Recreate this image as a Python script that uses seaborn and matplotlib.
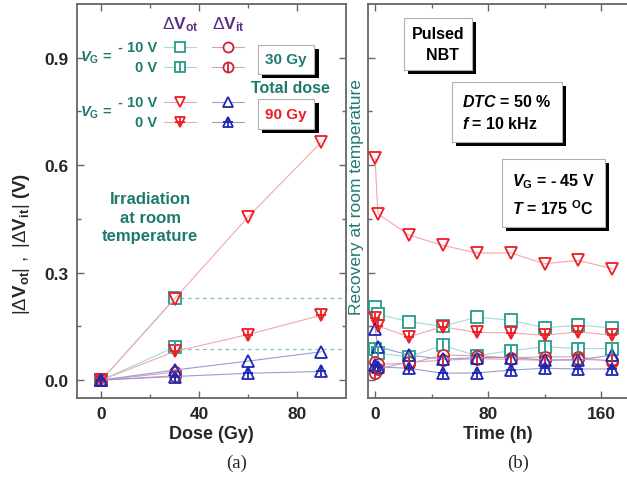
import numpy as np
import pandas as pd
import matplotlib
matplotlib.use("Agg")
import matplotlib.pyplot as plt
import matplotlib.patheffects as pe
import seaborn as sns

# ---------------- data ----------------
dose_30 = [0, 30]
dose_90 = [0, 30, 60, 90]
ot_m10_30 = [0.0, 0.228]
ot_0_30 = [0.0, 0.092]
it_m10_30 = [0.0, 0.022]
it_0_30 = [0.0, 0.012]
ot_m10_90 = [0.0, 0.227, 0.455, 0.664]
ot_0_90 = [0.0, 0.080, 0.127, 0.181]
it_m10_90 = [0.0, 0.028, 0.053, 0.079]
it_0_90 = [0.0, 0.010, 0.019, 0.024]
dash_levels = [0.230, 0.088]

time_h = [0, 2, 24, 48, 72, 96, 120, 144, 168]
rec_ot_m10_30 = [0.204, 0.184, 0.163, 0.150, 0.176, 0.167, 0.146, 0.153, 0.146]
rec_ot_0_30 = [0.088, 0.075, 0.065, 0.097, 0.068, 0.082, 0.093, 0.088, 0.088]
rec_it_m10_30 = [0.050, 0.045, 0.046, 0.070, 0.068, 0.062, 0.065, 0.065, 0.051]
rec_it_0_30 = [0.019, 0.032, 0.050, 0.055, 0.060, 0.058, 0.055, 0.058, 0.055]
rec_ot_m10_90 = [0.620, 0.464, 0.405, 0.376, 0.355, 0.355, 0.325, 0.334, 0.311]
rec_ot_0_90 = [0.172, 0.151, 0.121, 0.149, 0.133, 0.132, 0.125, 0.135, 0.125]
rec_it_m10_90 = [0.144, 0.093, 0.070, 0.058, 0.063, 0.063, 0.056, 0.056, 0.070]
rec_it_0_90 = [0.042, 0.037, 0.033, 0.019, 0.020, 0.028, 0.033, 0.031, 0.031]

# ---------------- style ----------------
sns.set_theme(style="white")
plt.rcParams["font.family"] = ["Liberation Sans", "DejaVu Sans"]
plt.rcParams["mathtext.fontset"] = "custom"
plt.rcParams["mathtext.rm"] = "Liberation Sans"
plt.rcParams["mathtext.bf"] = "Liberation Sans:bold"
plt.rcParams["mathtext.it"] = "Liberation Sans:italic:bold"

TEAL = "#239c8c"
TEAL_T = "#1e7a6f"
RED = "#ee1c25"
RED_C = "#cc2233"
BLUE = "#1c28b4"
PURPLE = "#5b2d86"
L_TEAL = "#a8d8d2"
L_RED = "#f2a8ac"
L_REDC = "#d9a0b8"
L_BLUE = "#9a9ad4"
SPINE = "#666666"

fig = plt.figure(figsize=(6.27, 4.81), dpi=100)
axL = fig.add_axes([77/627, 1-399/481, (345.6-77)/627, 394/481])
axR = fig.add_axes([368/627, 1-399/481, (627-368)/627, 394/481])

MS = 8
MEW = 1.3


def series(ax, x, y, mk, mc, lc, cross=None):
    sns.lineplot(x=x, y=y, ax=ax, color=lc, lw=0.8, marker=mk, ms=MS,
                 mfc="white" if mk in ("s", "o") else "none", mec=mc, mew=MEW,
                 zorder=3)
    if cross:
        sns.lineplot(x=x, y=y, ax=ax, color=mc, lw=0, marker=cross,
                     ms=MS*0.95, mec=mc, mew=MEW, zorder=4)


def all_series(ax, xs30, xs90, d):
    series(ax, xs30, d[0], "s", TEAL, L_TEAL)
    series(ax, xs30, d[1], "s", TEAL, L_TEAL, "|")
    series(ax, xs30, d[2], "o", RED_C, L_REDC)
    series(ax, xs30, d[3], "o", RED_C, L_REDC, "|")
    series(ax, xs90, d[4], "v", RED, L_RED)
    series(ax, xs90, d[5], "v", RED, L_RED, "+")
    series(ax, xs90, d[6], "^", BLUE, L_BLUE)
    series(ax, xs90, d[7], "^", BLUE, L_BLUE, "+")


all_series(axL, dose_30, dose_90,
           [ot_m10_30, ot_0_30, it_m10_30, it_0_30,
            ot_m10_90, ot_0_90, it_m10_90, it_0_90])
for lv in dash_levels:
    axL.plot([32, 100], [lv, lv], ls=(0, (3, 3)), color="#7fc4bb", lw=0.9, zorder=1)

all_series(axR, time_h, time_h,
           [rec_ot_m10_30, rec_ot_0_30, rec_it_m10_30, rec_it_0_30,
            rec_ot_m10_90, rec_ot_0_90, rec_it_m10_90, rec_it_0_90])

# ---------------- axes ----------------
for ax in (axL, axR):
    ax.set_ylim(-0.05, 1.05)
    ax.set_yticks([0.0, 0.3, 0.6, 0.9])
    ax.set_yticks([0.15, 0.45, 0.75], minor=True)
    ax.tick_params(which="both", direction="in", color=SPINE, width=1.0,
                   top=True, right=True, left=True, bottom=True,
                   labelsize=12.5, pad=6)
    ax.tick_params(which="major", length=5)
    ax.tick_params(which="minor", length=3)
    for s in ax.spines.values():
        s.set_color(SPINE)
        s.set_linewidth(1.3)

axL.set_xlim(-10, 100)
axL.set_xticks([0, 40, 80])
axL.set_xticks([20, 60], minor=True)
axL.set_yticklabels(["0.0", "0.3", "0.6", "0.9"], fontweight="bold")
axL.set_xticklabels(["0", "40", "80"], fontweight="bold")
axL.set_xlabel("Dose (Gy)", fontsize=13, fontweight="bold", labelpad=3)

axR.set_xlim(-5, 178.4)
axR.set_xticks([0, 80, 160])
axR.set_xticks([40, 120], minor=True)
axR.set_xticklabels(["0", "80", "160"], fontweight="bold")
axR.set_yticklabels([])
axR.tick_params(right=False, which="both")
axR.spines["right"].set_visible(False)
axR.set_xlabel("Time (h)", fontsize=13, fontweight="bold", labelpad=3)

fig.text(0.035, 0.493,
         r"$|\Delta\mathbf{V_{ot}}|\ ,\ |\Delta\mathbf{V_{it}}|$ (V)",
         rotation=90, ha="center", va="center", fontsize=13.5, fontweight="bold")

# ---------------- legend (custom) ----------------
T = axL.transAxes
xo, xi = 0.383, 0.562
rows = [0.891, 0.840, 0.751, 0.700]
axL.text(xo, 0.949, r"$\Delta\mathbf{V_{ot}}$", transform=T, ha="center", va="center",
         color=PURPLE, fontsize=12.5, fontweight="bold")
axL.text(xi, 0.949, r"$\Delta\mathbf{V_{it}}$", transform=T, ha="center", va="center",
         color=PURPLE, fontsize=12.5, fontweight="bold")
leg = [
    (rows[0], "s", TEAL, L_TEAL, None, "o", RED_C, L_REDC, None),
    (rows[1], "s", TEAL, L_TEAL, "|", "o", RED_C, L_REDC, "|"),
    (rows[2], "v", RED, L_RED, None, "^", BLUE, L_BLUE, None),
    (rows[3], "v", RED, L_RED, "+", "^", BLUE, L_BLUE, "+"),
]
for (yy, m1, c1, l1, x1, m2, c2, l2, x2) in leg:
    for (xc, m, c, l, cr) in ((xo, m1, c1, l1, x1), (xi, m2, c2, l2, x2)):
        axL.plot([xc-0.06, xc+0.06], [yy, yy], transform=T, color=l, lw=0.8,
                 clip_on=False, zorder=5)
        axL.plot([xc], [yy], transform=T, marker=m, ms=MS*0.9,
                 mfc="white", mec=c, mew=MEW, ls="none", zorder=6)
        if cr:
            axL.plot([xc], [yy], transform=T, marker=cr, ms=MS*0.85,
                     mec=c, mew=MEW, ls="none", zorder=7)
for yy, lab in zip(rows, ["- 10 V", "0 V", "- 10 V", "0 V"]):
    axL.text(0.298, yy, lab, transform=T, ha="right", va="center",
             color=TEAL_T, fontsize=10.5, fontweight="bold")
for yy in ((rows[0]+rows[1])/2, (rows[2]+rows[3])/2):
    axL.text(0.012, yy, r"$\mathit{V}_{\mathbf{G}}$ =", transform=T, ha="left",
             va="center", color=TEAL_T, fontsize=10.5, fontweight="bold")


def shadow_box(ax, x, y, s, color, ha="center", size=10.5, pad=0.45):
    t = ax.text(x, y, s, transform=ax.transAxes, ha=ha, va="center",
                color=color, fontsize=size, fontweight="bold", zorder=8,
                linespacing=1.5,
                bbox=dict(boxstyle=f"square,pad={pad}", fc="white",
                          ec="#b0b0b0", lw=0.8))
    t.get_bbox_patch().set_path_effects(
        [pe.SimplePatchShadow(offset=(3, -3), shadow_rgbFace="black", alpha=1.0),
         pe.Normal()])
    return t


shadow_box(axL, 0.778, 0.860, "30 Gy", TEAL_T, size=11, pad=0.5)
axL.text(0.793, 0.789, "Total dose", transform=T, ha="center", va="center",
         color=TEAL_T, fontsize=11.5, fontweight="bold")
shadow_box(axL, 0.778, 0.721, "90 Gy", RED, size=11, pad=0.5)

axL.text(0.272, 0.459, "Irradiation\nat room\ntemperature", transform=T,
         ha="center", va="center", color=TEAL_T, fontsize=12,
         fontweight="bold", linespacing=1.3)

shadow_box(axR, 0.27, 0.898, "Pulsed\n  NBT", "black", size=11.5, pad=0.5)
shadow_box(axR, 0.363, 0.726,
           r"$\mathit{DTC}$ = 50 %" + "\n" + r"$\mathit{f}$ = 10 kHz",
           "black", ha="left", size=11.5, pad=0.65)
shadow_box(axR, 0.556, 0.518,
           r"$\mathit{V}_{\mathbf{G}}$ = - 45 V" + "\n" + r"$\mathit{T}$ = 175 $^{\mathbf{O}}$C",
           "black", ha="left", size=11.5, pad=0.65)

fig.text(357/627, 1-197/481, "Recovery at room temperature", rotation=90,
         ha="center", va="center", color=TEAL_T, fontsize=12.5)

fig.text(237/627, 1-463/481, "(a)", ha="center", va="center",
         fontsize=13.5, family="Liberation Serif")
fig.text(518/627, 1-463/481, "(b)", ha="center", va="center",
         fontsize=13.5, family="Liberation Serif")

fig.savefig("out.png", dpi=100)
